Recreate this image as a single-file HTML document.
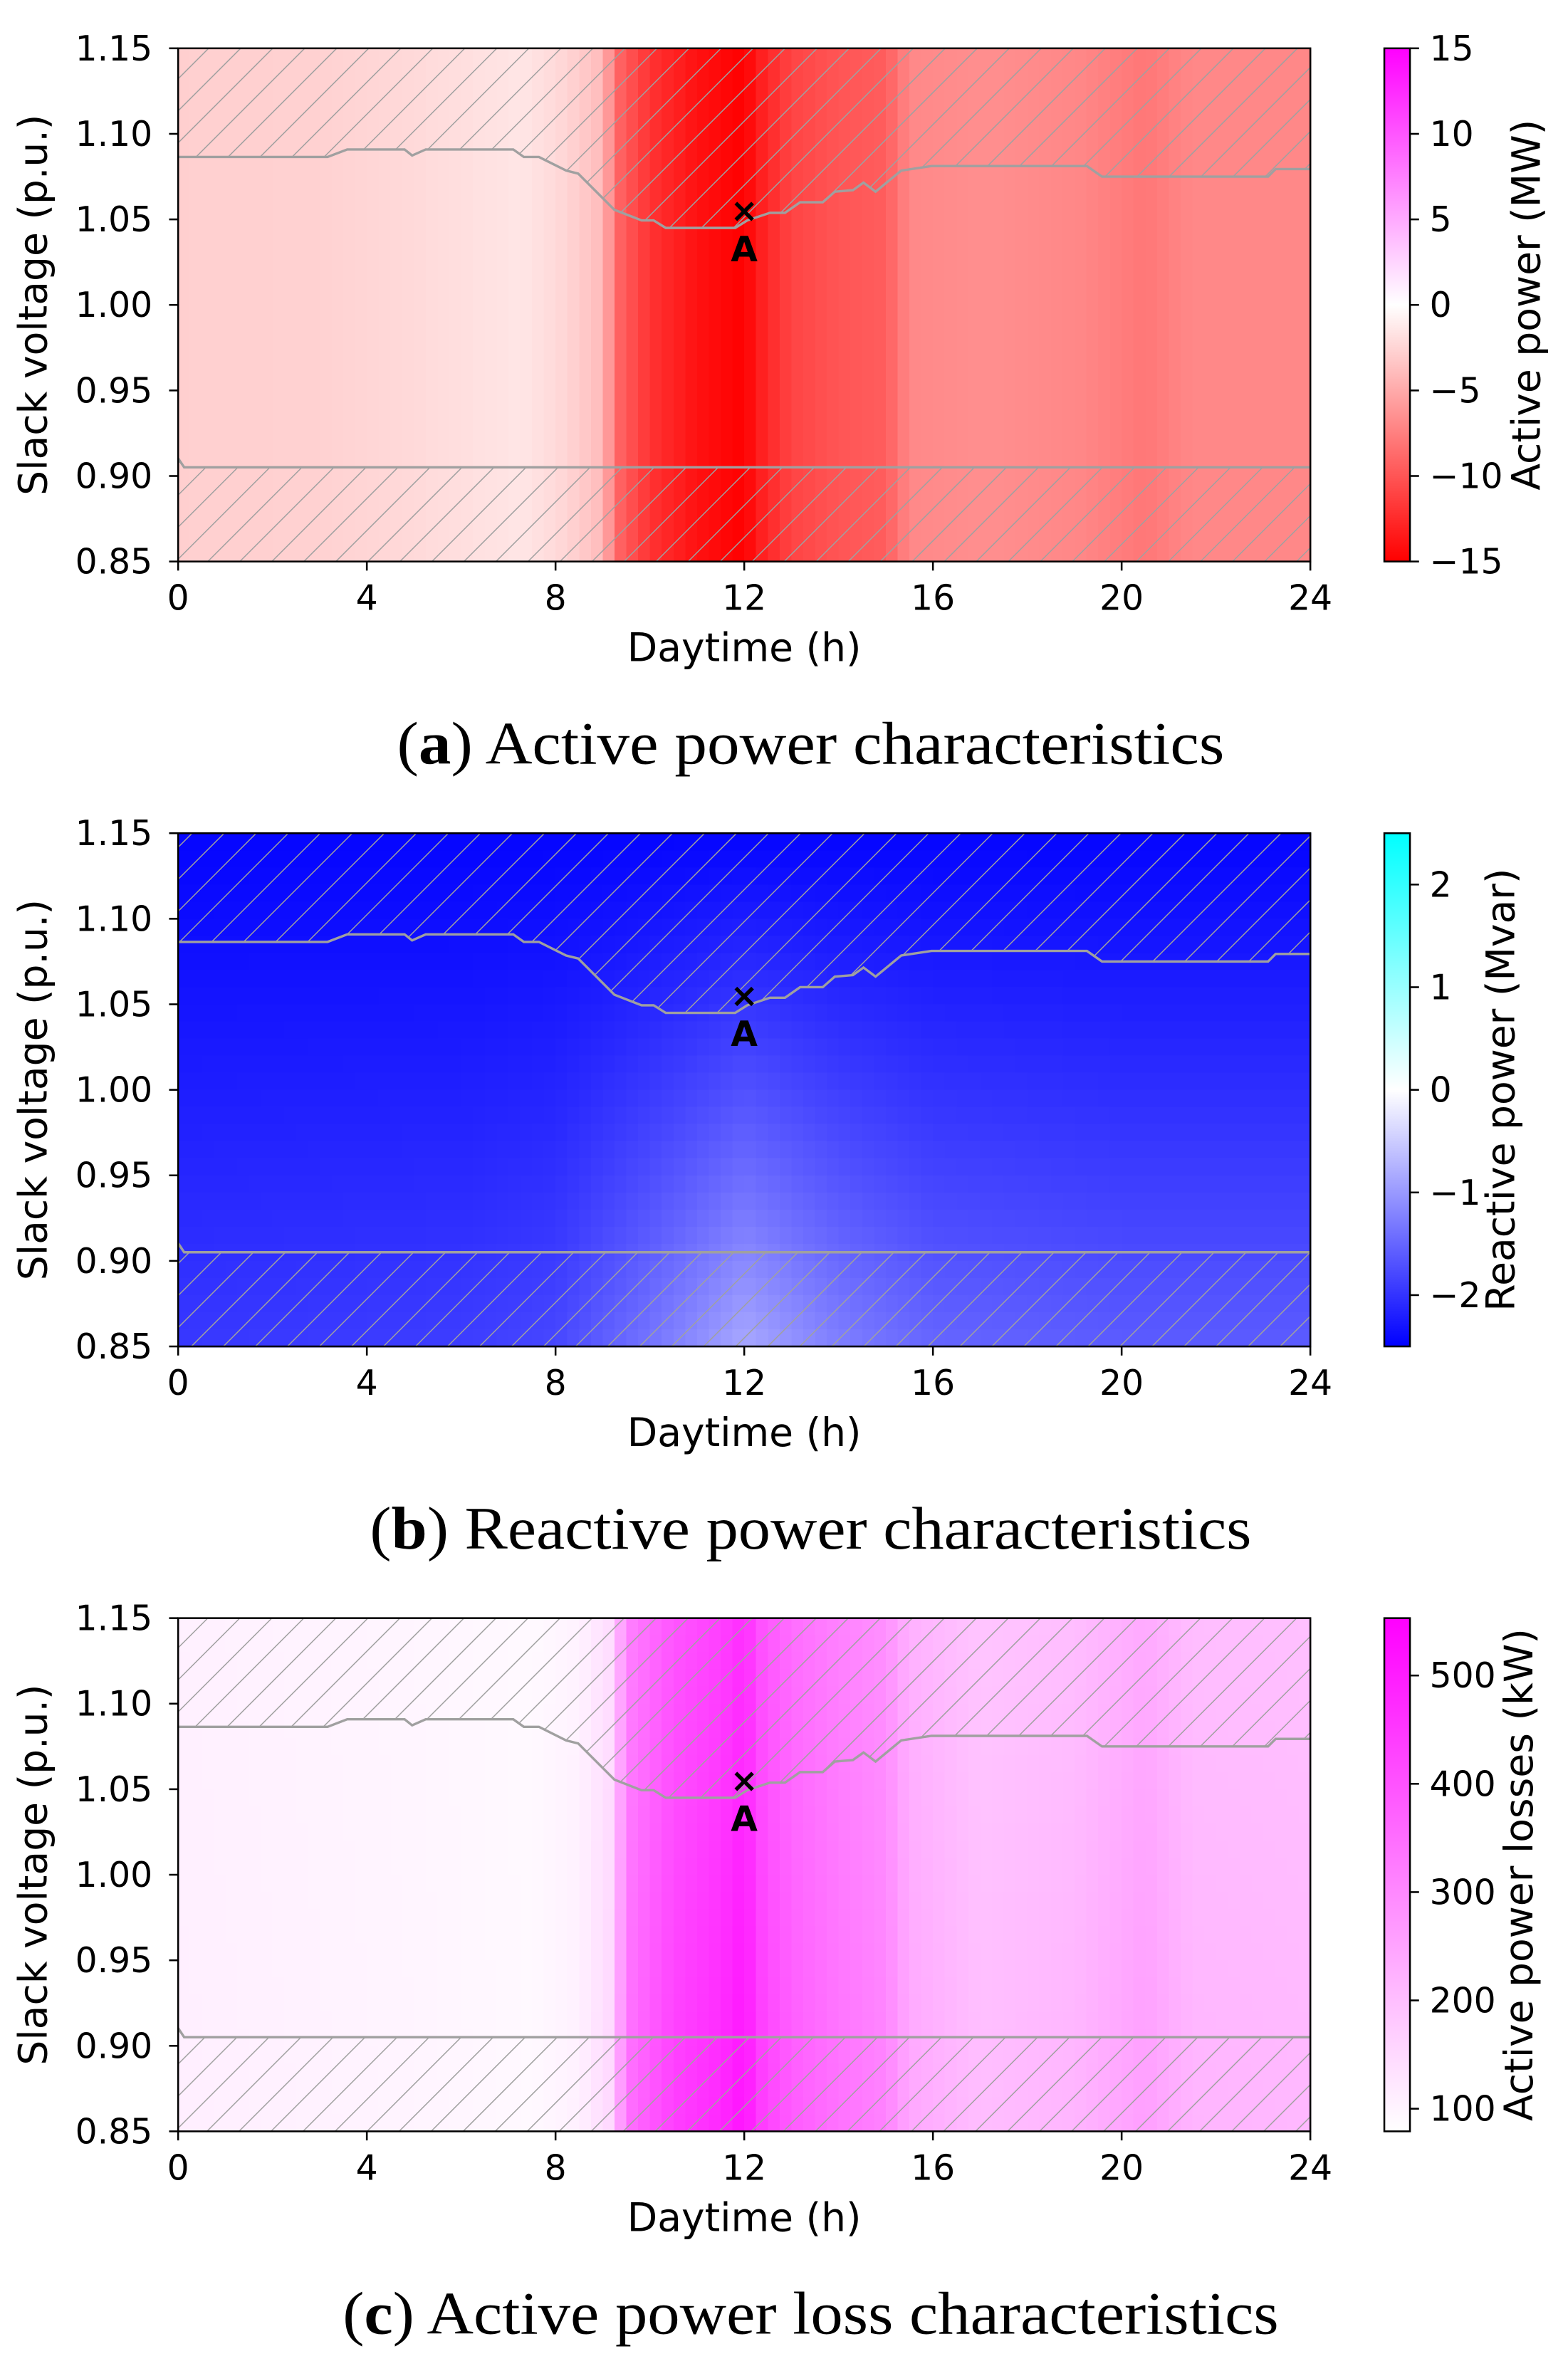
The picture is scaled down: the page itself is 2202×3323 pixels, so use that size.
<!DOCTYPE html>
<html><head><meta charset="utf-8"><style>
html,body{margin:0;padding:0;background:#fff;}
svg{display:block;}
text{font-family:"DejaVu Sans","Liberation Sans",sans-serif;fill:#000;}
.cap{font-family:"Liberation Serif",serif;font-size:40px;}
.tk{font-size:23px;}
.lb{font-size:26px;}
</style></head><body>
<svg id="s" xmlns="http://www.w3.org/2000/svg" width="2202" height="3323" viewBox="0 0 1038.68 1567.45">
<defs>
<pattern id="hatch" patternUnits="userSpaceOnUse" width="15" height="15" patternTransform="rotate(45)">
<line x1="0" y1="0" x2="0" y2="15" stroke="#a0a0a0" stroke-width="1.4"/>
</pattern>
</defs>
<g id="root"></g>
</svg>
<script>
const NS="http://www.w3.org/2000/svg";
const root=document.getElementById('root');
function el(tag,attrs,parent,txt){const e=document.createElementNS(NS,tag);for(const k in attrs)e.setAttribute(k,attrs[k]);if(txt!==undefined)e.textContent=txt;(parent||root).appendChild(e);return e;}
function interp(pts,h){for(let i=0;i<pts.length-1;i++){if(h>=pts[i][0]&&h<=pts[i+1][0]){const t=(h-pts[i][0])/(pts[i+1][0]-pts[i][0]);return pts[i][1]+t*(pts[i+1][1]-pts[i][1]);}}return pts[pts.length-1][1];}
const X0=118,X1=868,W=750;
const hx=h=>X0+h*W/24;
const upper=[[118,104],[217,104],[230,99],[268,99],[273,103],[282,99],[340,99],[347,104],[357,104],[375,113],[383,115],[407,139],[425,146],[433,146],[441,151],[472,151],[487,151],[495,146],[510,141],[520,141],[530,134],[545,134],[553,127],[565,126],[572,121],[580,127],[597,113],[617,110],[720,110],[730,117],[840,117],[845,112],[868,112]];
function panel(top,colorFn,vert,cb,capB,capRest){
  const off=top-32, bot=top+340;
  const g=el('g',{});
  const nc=96, nr=vert?30:1;
  for(let i=0;i<nc;i++){for(let j=0;j<nr;j++){
    const h=(i+0.5)*24/nc, f=(j+0.5)/nr;
    el('rect',{x:(X0+i*W/nc).toFixed(2),y:(top+j*340/nr).toFixed(2),width:(W/nc+0.6).toFixed(2),height:(340/nr+0.6).toFixed(2),fill:colorFn(h,f),'shape-rendering':'crispEdges'},g);
  }}
  let up=upper.map(p=>p[0]+','+(p[1]+off)).join(' ');
  el('polygon',{points:`${X0},${top} ${up} ${X1},${top}`,fill:'url(#hatch)'});
  const ly=309.6+off;
  el('polygon',{points:`${X0},${ly-6} ${X0+4},${ly} ${X1},${ly} ${X1},${bot} ${X0},${bot}`,fill:'url(#hatch)'});
  el('polyline',{points:up,fill:'none',stroke:'#a0a0a0','stroke-width':1.6});
  el('polyline',{points:`${X0},${ly-6} ${X0+4},${ly} ${X1},${ly}`,fill:'none',stroke:'#a0a0a0','stroke-width':1.6});
  el('rect',{x:X0,y:top,width:W,height:340,fill:'none',stroke:'#000','stroke-width':1.2});
  const yl=['1.15','1.10','1.05','1.00','0.95','0.90','0.85'];
  yl.forEach((t,k)=>{const y=top+k*340/6;el('line',{x1:X0-6,y1:y,x2:X0,y2:y,stroke:'#000','stroke-width':1.2});el('text',{x:101,y:y+8,'text-anchor':'end',class:'tk'},null,t);});
  for(let k=0;k<=6;k++){const x=hx(k*4);el('line',{x1:x,y1:bot,x2:x,y2:bot+6,stroke:'#000','stroke-width':1.2});el('text',{x:x,y:bot+32,'text-anchor':'middle',class:'tk'},null,String(k*4));}
  el('text',{x:493,y:bot+66,'text-anchor':'middle',class:'lb'},null,'Daytime (h)');
  el('text',{x:0,y:0,'text-anchor':'middle',class:'lb',transform:`translate(31,${top+170}) rotate(-90)`},null,'Slack voltage (p.u.)');
  el('text',{x:493,y:top+115,'text-anchor':'middle','font-size':'22px','font-weight':'bold'},null,'×');
  el('text',{x:493,y:top+141,'text-anchor':'middle','font-size':'23px','font-weight':'bold'},null,'A');
  const cx=917,cw=17;
  const gid='cg'+top;
  const lg=el('linearGradient',{id:gid,x1:0,y1:1,x2:0,y2:0},document.querySelector('defs'));
  cb.stops.forEach(s=>el('stop',{offset:s[0],'stop-color':s[1]},lg));
  el('rect',{x:cx,y:top,width:cw,height:340,fill:`url(#${gid})`,stroke:'#000','stroke-width':1.2});
  cb.ticks.forEach(t=>{const y=top+t[0];el('line',{x1:cx+cw,y1:y,x2:cx+cw+6,y2:y,stroke:'#000','stroke-width':1.2});el('text',{x:cx+cw+13,y:y+8,class:'tk'},null,t[1]);});
  el('text',{x:0,y:0,'text-anchor':'middle',class:'lb',transform:`translate(${cb.lx},${top+cb.ly}) rotate(-90)`},null,cb.label);
  const c=el('text',{x:537,y:bot+134,'text-anchor':'middle',class:'cap',textLength:cb.cw,lengthAdjust:'spacingAndGlyphs'});
  el('tspan',{},c,'(');el('tspan',{'font-weight':'bold'},c,capB);el('tspan',{},c,') '+capRest);
}
const r=Math.round;
const pa=[[0,-2.8],[3,-2.7],[5,-2.2],[7.3,-1.5],[8.2,-2.4],[9.0,-4],[9.3,-9],[10,-12],[11,-14],[12,-15],[12.4,-13],[13,-11],[14,-10],[15,-9.5],[15.5,-7],[17,-6.6],[19,-7],[20.5,-8],[21.5,-7],[24,-7]];
function ca(h){const v=interp(pa,h);const t=Math.min(1,-v/15);const g=r(255*(1-t));return `rgb(255,${g},${g})`;}
panel(32,(h,f)=>ca(h),false,{stops:[[0,'#ff0000'],[0.5,'#ffffff'],[1,'#ff00ff']],ticks:[[0,'15'],[56.67,'10'],[113.33,'5'],[170,'0'],[226.67,'−5'],[283.33,'−10'],[340,'−15']],label:'Active power (MW)',lx:1020,ly:170,cw:548},'a','Active power characteristics');
const pb=[[0,-1.95],[6,-1.9],[8,-1.8],[10,-1.35],[12,-0.85],[14,-1.25],[16,-1.5],[20,-1.6],[24,-1.6]];
function cbf(h,f){const bt=interp(pb,h);const v=-2.45+(bt+2.45)*Math.pow(f,1.1);const t=Math.min(1,-v/2.5);const g=r(255*(1-t));return `rgb(${g},${g},255)`;}
panel(552,cbf,true,{stops:[[0,'#0000ff'],[0.5,'#ffffff'],[1,'#00ffff']],ticks:[[34,'2'],[102,'1'],[170,'0'],[238,'−1'],[306,'−2']],label:'Reactive power (Mvar)',lx:1003,ly:170,cw:584},'b','Reactive power characteristics');
const pc=[[0,108],[5,98],[7.5,90],[8.5,105],[9.2,150],[9.5,330],[10.5,420],[11.5,460],[12,500],[12.4,420],[13,370],[14,330],[15,300],[15.5,235],[17,195],[19,210],[20.5,250],[21.5,210],[24,205]];
function ccf(h,f){let v=interp(pc,h);v=79+(v-79)*(0.93+0.12*f);const t=Math.max(0,Math.min(1,(v-79)/474));return `rgb(255,${r(255*(1-t))},255)`;}
panel(1072,ccf,true,{stops:[[0,'#ffffff'],[1,'#ff00ff']],ticks:[[38,'500'],[109.75,'400'],[181.5,'300'],[253.25,'200'],[325,'100']],label:'Active power losses (kW)',lx:1015,ly:170,cw:620},'c','Active power loss characteristics');
</script>
</body></html>
